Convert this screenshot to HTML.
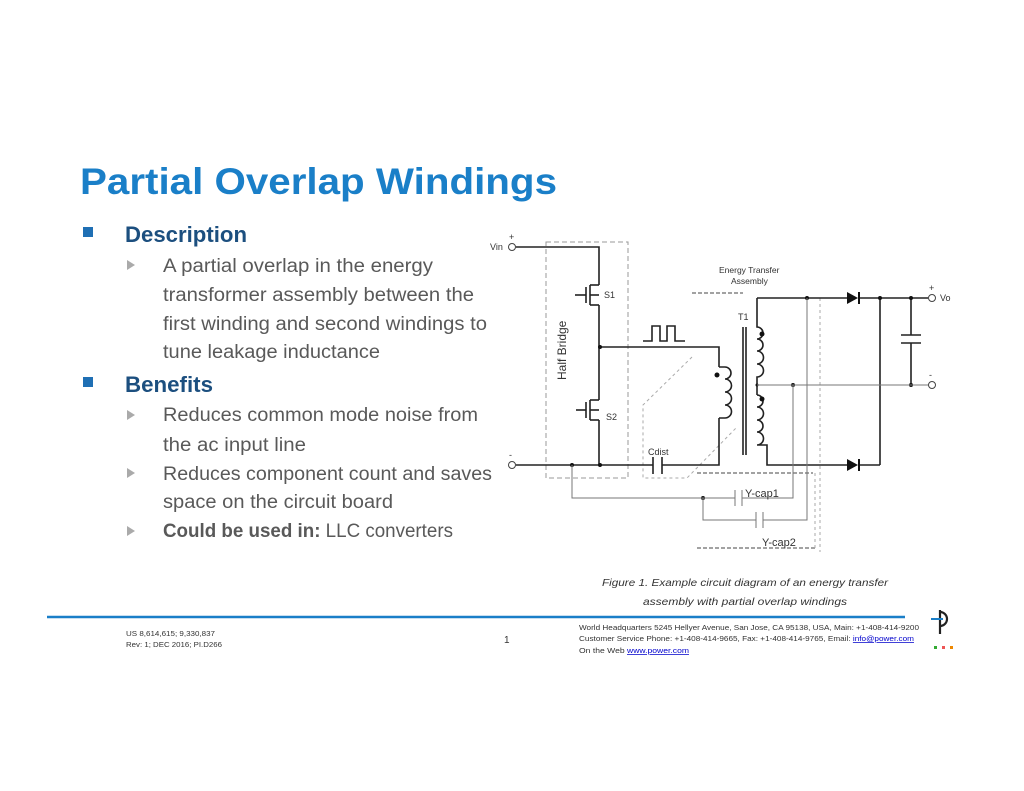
<!DOCTYPE html>
<html><head><meta charset="utf-8"><style>
html,body{margin:0;padding:0;background:#fff;}
svg{display:block}
</style></head><body>
<svg width="1024" height="791" viewBox="0 0 1024 791" xmlns="http://www.w3.org/2000/svg" font-family="Liberation Sans, sans-serif">
<!-- Title -->
<text x="80" y="194" font-size="37" font-weight="bold" fill="#1a7fc8" textLength="477" lengthAdjust="spacingAndGlyphs">Partial Overlap Windings</text>
<!-- bullets -->
<rect x="83" y="227" width="10" height="10" fill="#1f6fb4"/>
<text x="125" y="242" font-size="22" font-weight="bold" fill="#1c4f7f" textLength="122" lengthAdjust="spacingAndGlyphs">Description</text>
<g fill="#aaa"><polygon points="127,260 127,270 135,265"/><polygon points="127,410 127,420 135,415"/><polygon points="127,468 127,478 135,473"/><polygon points="127,526 127,536 135,531"/></g>
<g font-size="19" fill="#595959">
<text x="163" y="272" textLength="270" lengthAdjust="spacingAndGlyphs">A partial overlap in the energy</text>
<text x="163" y="301" textLength="311" lengthAdjust="spacingAndGlyphs">transformer assembly between the</text>
<text x="163" y="330" textLength="324" lengthAdjust="spacingAndGlyphs">first winding and second windings to</text>
<text x="163" y="358" textLength="217" lengthAdjust="spacingAndGlyphs">tune leakage inductance</text>
<text x="163" y="421" textLength="315" lengthAdjust="spacingAndGlyphs">Reduces common mode noise from</text>
<text x="163" y="451" textLength="143" lengthAdjust="spacingAndGlyphs">the ac input line</text>
<text x="163" y="480" textLength="329" lengthAdjust="spacingAndGlyphs">Reduces component count and saves</text>
<text x="163" y="508" textLength="230" lengthAdjust="spacingAndGlyphs">space on the circuit board</text>
<text x="163" y="537" textLength="290" lengthAdjust="spacingAndGlyphs"><tspan font-weight="bold">Could be used in:</tspan> LLC converters</text>
</g>
<rect x="83" y="377" width="10" height="10" fill="#1f6fb4"/>
<text x="125" y="392" font-size="22" font-weight="bold" fill="#1c4f7f" textLength="88" lengthAdjust="spacingAndGlyphs">Benefits</text>

<!-- Circuit -->
<g stroke="#999" stroke-width="1" fill="none" stroke-dasharray="5,3">
<rect x="546" y="242" width="82" height="236"/>
</g>
<g stroke="#444" stroke-width="1" fill="none" stroke-dasharray="4,2">
<line x1="692" y1="293" x2="743" y2="293"/>
<line x1="697" y1="548" x2="815" y2="548"/>
<line x1="697" y1="473" x2="813" y2="473"/>
</g>
<g stroke="#aaa" stroke-width="1" fill="none" stroke-dasharray="3,3">
<line x1="820" y1="298" x2="820" y2="552"/>
<line x1="815" y1="473" x2="815" y2="548"/>
<polyline points="692,357 643,405 643,478 687,478 737,427"/>
</g>
<!-- thick wires -->
<g stroke="#222" stroke-width="1.6" fill="none">
<polyline points="516,247 599,247 599,285"/>
<line x1="599" y1="305" x2="599" y2="400"/>
<line x1="599" y1="420" x2="599" y2="465"/>
<polyline points="600,347 719,347 719,367"/>
<polyline points="719,418 719,465 662,465"/>
<line x1="516" y1="465" x2="653" y2="465"/>
<line x1="653" y1="457" x2="653" y2="474"/>
<line x1="662" y1="457" x2="662" y2="474"/>
<!-- primary coil -->
<path d="M719,367 h6 a6,6 0 0 1 0,12 a6,6 0 0 1 0,13 a6,6 0 0 1 0,13 a6,6 0 0 1 0,13 h-6"/>
<!-- secondary coil top -->
<path d="M757,298 v29 a5,5 0 0 1 0,12 a5,5 0 0 1 0,12 a5,5 0 0 1 0,13 a5,5 0 0 1 0,13 v8"/>
<path d="M757,395 a5,5 0 0 1 0,12 a5,5 0 0 1 0,13 a5,5 0 0 1 0,12 a5,5 0 0 1 0,13 h10 v20 h80"/>
<line x1="757" y1="385" x2="757" y2="395"/>
<line x1="757" y1="298" x2="847" y2="298"/>
<line x1="860" y1="298" x2="928" y2="298"/>
<line x1="860" y1="465" x2="880" y2="465"/>
<line x1="880" y1="298" x2="880" y2="465"/>
<polyline points="911,298 911,335"/>
<polyline points="911,343 911,385"/>
<line x1="901" y1="335" x2="921" y2="335"/>
<line x1="901" y1="343" x2="921" y2="343"/>
<!-- core -->
<line x1="743" y1="327" x2="743" y2="455"/>
<line x1="746" y1="327" x2="746" y2="455"/>
<!-- pulse -->
<polyline points="643,341 652,341 652,326 660,326 660,341 667,341 667,326 675,326 675,341 685,341"/>
<!-- mosfets -->
<line x1="575" y1="295" x2="586" y2="295"/><line x1="586" y1="287" x2="586" y2="303"/>
<line x1="590" y1="285" x2="590" y2="305"/><polyline points="590,285 599,285"/><polyline points="590,305 599,305"/><line x1="590" y1="295" x2="599" y2="295"/>
<line x1="576" y1="410" x2="586" y2="410"/><line x1="586" y1="402" x2="586" y2="418"/>
<line x1="590" y1="400" x2="590" y2="420"/><polyline points="590,400 599,400"/><polyline points="590,420 599,420"/><line x1="590" y1="410" x2="599" y2="410"/>
</g>
<!-- diodes -->
<g fill="#111">
<polygon points="847,292 847,304 858,298"/><line x1="859" y1="292" x2="859" y2="304" stroke="#111" stroke-width="2"/>
<polygon points="847,459 847,471 858,465"/><line x1="859" y1="459" x2="859" y2="471" stroke="#111" stroke-width="2"/>
<circle cx="600" cy="347" r="2"/><circle cx="600" cy="465" r="2"/><circle cx="572" cy="465" r="2"/>
<circle cx="807" cy="298" r="2"/><circle cx="880" cy="298" r="2"/><circle cx="911" cy="298" r="2"/>
<circle cx="793" cy="385" r="2"/><circle cx="911" cy="385" r="2"/><circle cx="757" cy="385" r="1.5"/>
<circle cx="703" cy="498" r="2"/>
<circle cx="717" cy="375" r="2.5"/><circle cx="762" cy="334" r="2.5"/><circle cx="762" cy="399" r="2.5"/>
</g>
<!-- thin gray wires -->
<g stroke="#777" stroke-width="1" fill="none">
<line x1="757" y1="385" x2="928" y2="385"/>
<polyline points="572,465 572,498 735,498"/>
<line x1="735" y1="490" x2="735" y2="506"/><line x1="742" y1="490" x2="742" y2="506"/>
<polyline points="742,498 793,498 793,385"/>
<polyline points="703,498 703,520 756,520"/>
<line x1="756" y1="512" x2="756" y2="528"/><line x1="763" y1="512" x2="763" y2="528"/>
<polyline points="763,520 807,520 807,298"/>
</g>
<g stroke="#444" stroke-width="1" fill="#fff">
<circle cx="512" cy="247" r="3.5"/><circle cx="512" cy="465" r="3.5"/><circle cx="932" cy="298" r="3.5"/><circle cx="932" cy="385" r="3.5"/>
</g>
<g font-size="9" fill="#333">
<text x="490" y="250">Vin</text><text x="509" y="240">+</text><text x="509" y="458">-</text>
<text x="929" y="291">+</text><text x="929" y="378">-</text><text x="940" y="301">Vo</text>
<text x="604" y="298">S1</text><text x="606" y="420">S2</text>
<text x="738" y="320">T1</text><text x="648" y="455">Cdist</text>
<text x="719" y="273" font-size="8.5">Energy Transfer</text><text x="731" y="284" font-size="8.5">Assembly</text>
<text x="745" y="497" font-size="11">Y-cap1</text><text x="762" y="546" font-size="11">Y-cap2</text>
<text transform="translate(566,380) rotate(-90)" font-size="12">Half Bridge</text>
</g>
<!-- caption -->
<g font-size="10.5" font-style="italic" fill="#333">
<text x="602" y="586" textLength="286" lengthAdjust="spacingAndGlyphs">Figure 1. Example circuit diagram of an energy transfer</text>
<text x="643" y="605" textLength="204" lengthAdjust="spacingAndGlyphs">assembly with partial overlap windings</text>
</g>
<!-- footer -->
<line x1="47" y1="617" x2="905" y2="617" stroke="#1a7fc8" stroke-width="2.5"/>
<g font-size="7.5" fill="#333">
<text x="126" y="636" textLength="89" lengthAdjust="spacingAndGlyphs">US 8,614,615; 9,330,837</text>
<text x="126" y="647" textLength="96" lengthAdjust="spacingAndGlyphs">Rev: 1; DEC 2016; PI.D266</text>
<text x="504" y="643" font-size="10">1</text>
<text x="579" y="630" textLength="340" lengthAdjust="spacingAndGlyphs">World Headquarters 5245 Hellyer Avenue, San Jose, CA 95138, USA, Main: +1-408-414-9200</text>
<text x="579" y="641" textLength="335" lengthAdjust="spacingAndGlyphs">Customer Service Phone: +1-408-414-9665, Fax: +1-408-414-9765, Email: <tspan fill="#00c" text-decoration="underline">info@power.com</tspan></text>
<text x="579" y="653" textLength="110" lengthAdjust="spacingAndGlyphs">On the Web <tspan fill="#00c" text-decoration="underline">www.power.com</tspan></text>
</g>
<!-- logo -->
<g stroke="#222" stroke-width="2.2" fill="none">
<line x1="940" y1="610" x2="940" y2="634"/>
<path d="M940,612 a7,7 0 0 1 0,14"/>
</g>
<line x1="931" y1="619" x2="943" y2="619" stroke="#1a7fc8" stroke-width="2"/>
<rect x="934" y="646" width="3" height="3" fill="#3a3"/><rect x="942" y="646" width="3" height="3" fill="#e55"/><rect x="950" y="646" width="3" height="3" fill="#e80"/>
</svg>
</body></html>
